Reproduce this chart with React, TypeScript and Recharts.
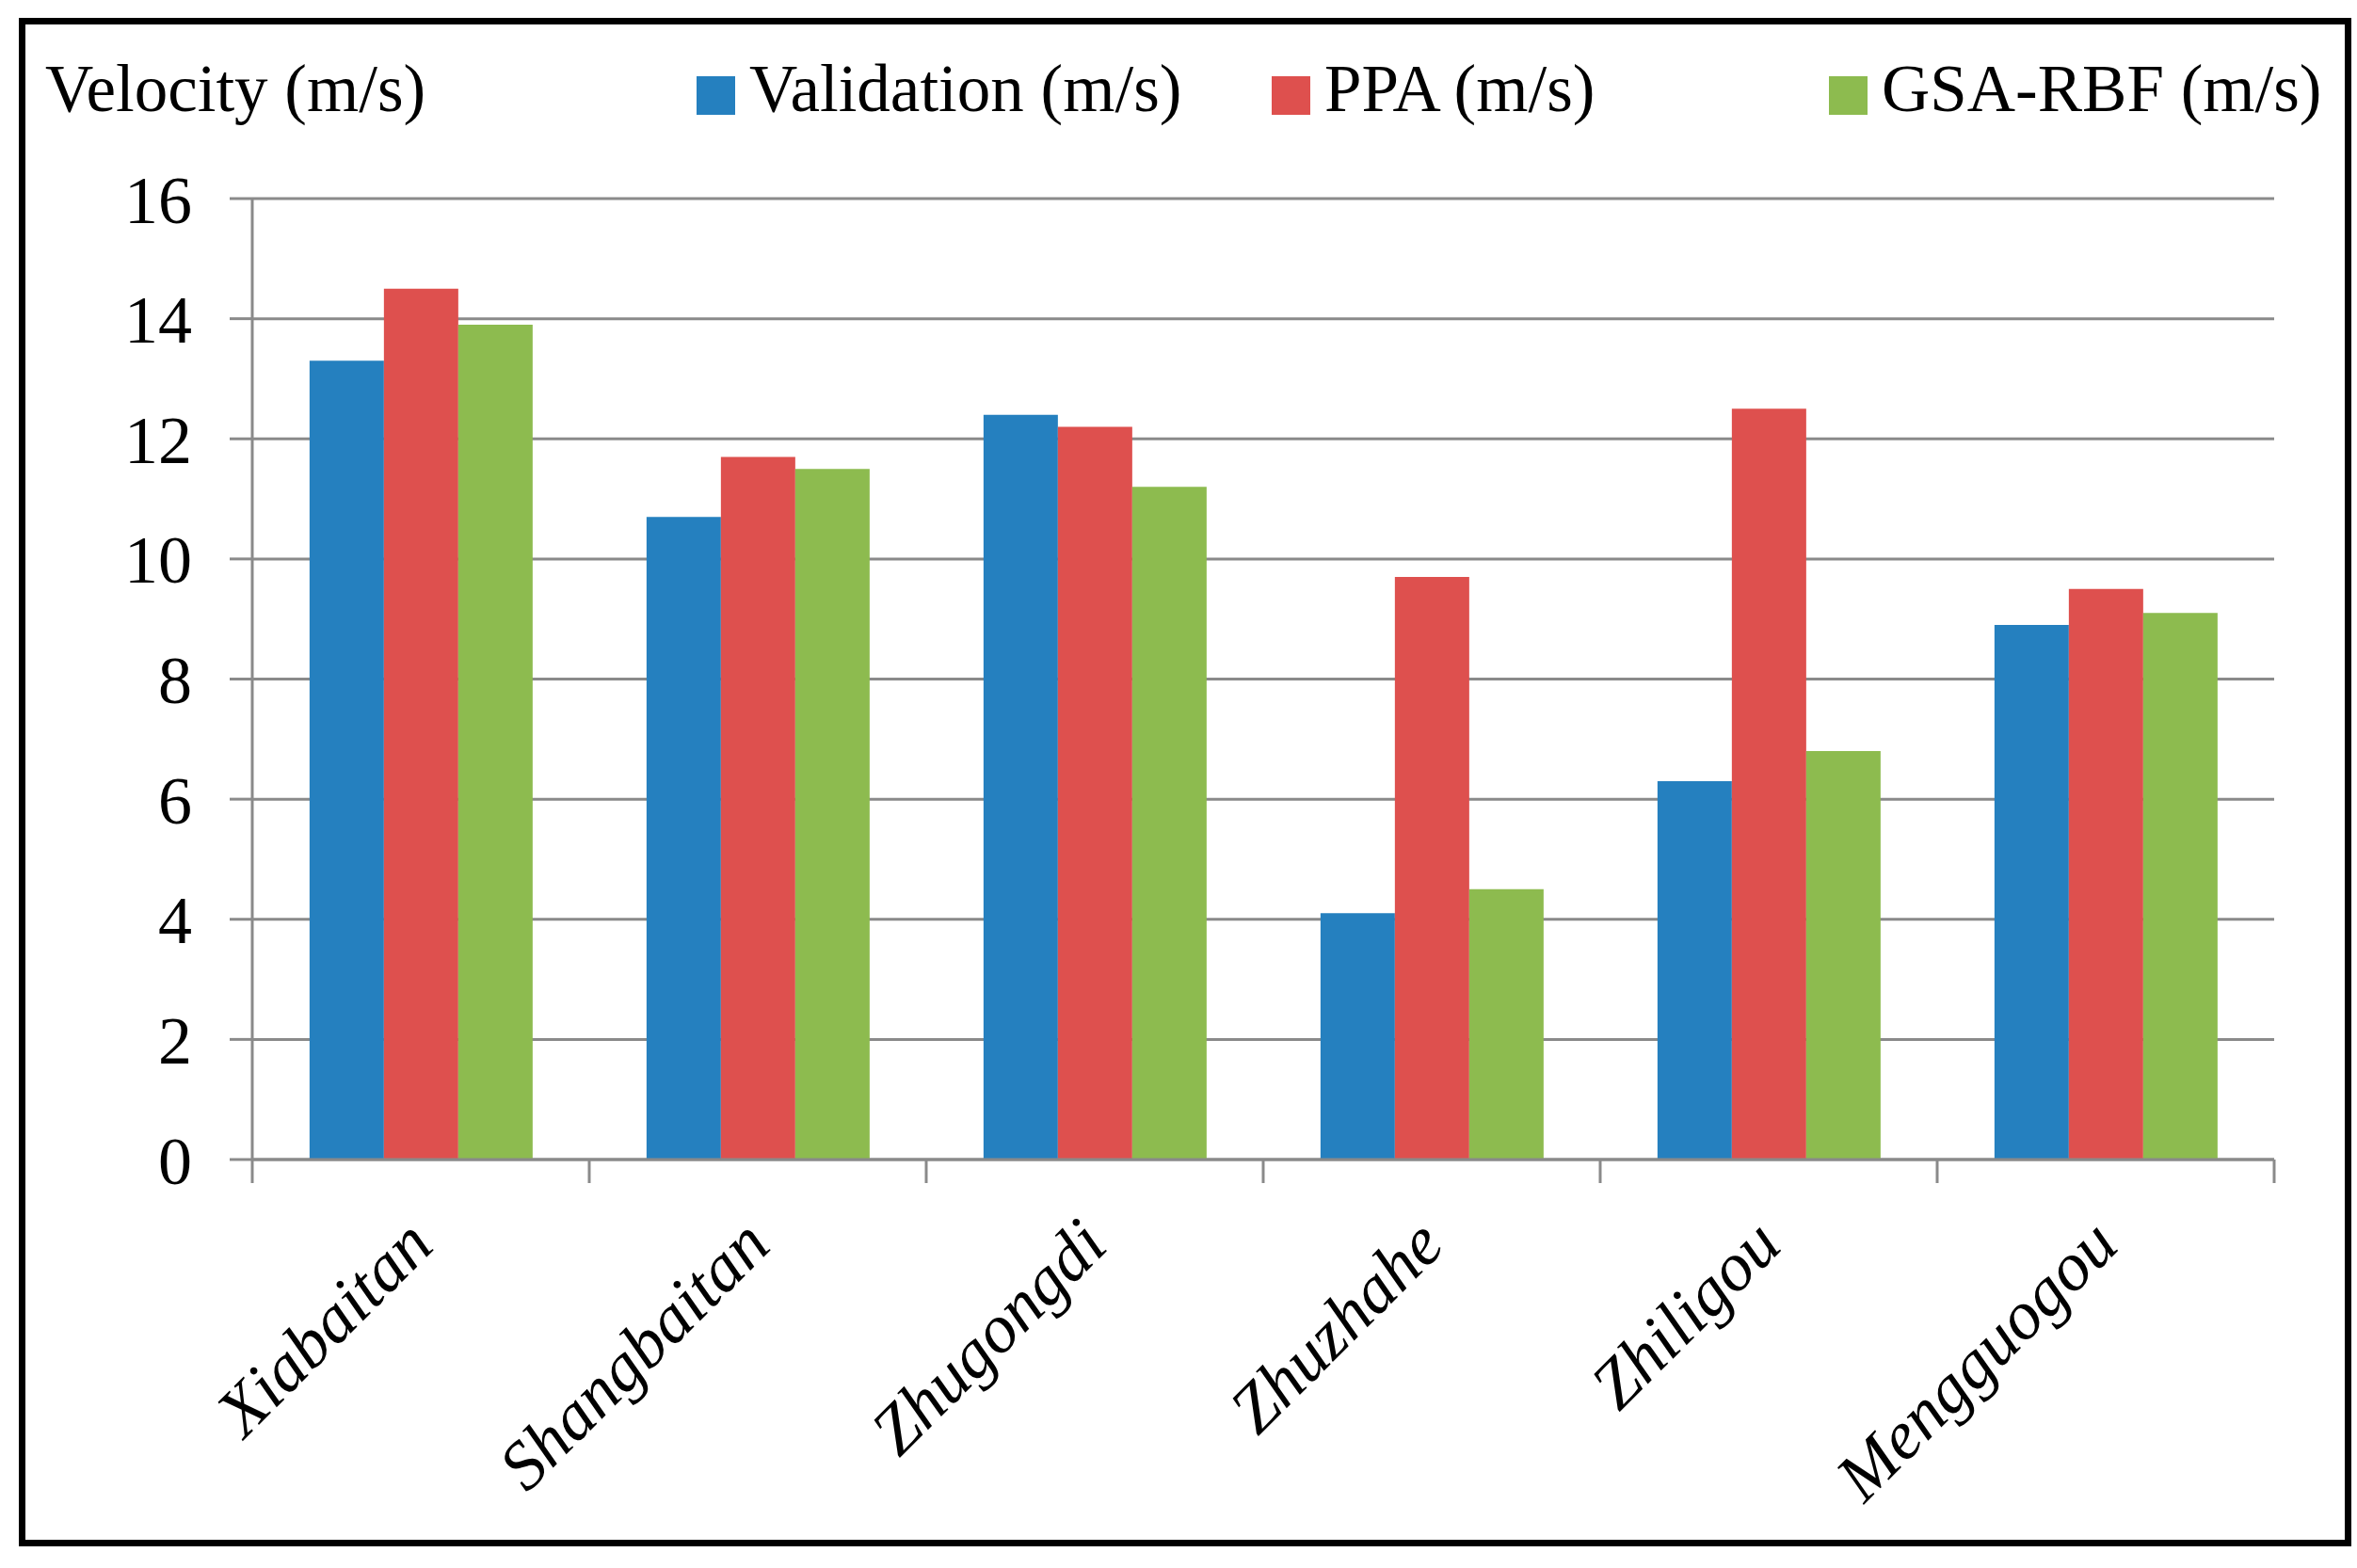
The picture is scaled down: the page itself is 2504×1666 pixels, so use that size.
import React from 'react';
import { BarChart, Bar, XAxis, YAxis, CartesianGrid, Legend } from 'recharts';

const categories = ['Xiabaitan', 'Shangbaitan', 'Zhugongdi', 'Zhuzhahe', 'Zhiligou', 'Mengguogou'];
const validation = [13.3, 10.7, 12.4, 4.1, 6.3, 8.9];
const ppa = [14.5, 11.7, 12.2, 9.7, 12.5, 9.5];
const gsaRbf = [13.9, 11.5, 11.2, 4.5, 6.8, 9.1];
const yTicks = [0, 2, 4, 6, 8, 10, 12, 14, 16];
const seriesNames = ['Validation (m/s)', 'PPA (m/s)', 'GSA-RBF (m/s)'];
const seriesColors = ['#2580BF', '#DE504E', '#8DBB4F'];
const axisTitle = 'Velocity (m/s)';

const data = categories.map((c, i) => ({ name: c, v: validation[i], p: ppa[i], g: gsaRbf[i] }));

const W = 2504;
const H = 1666;
const PLOT_LEFT = 268;
const PLOT_RIGHT = 2416;
const PLOT_TOP = 211;
const PLOT_BOTTOM = 1232;
const BAND = (PLOT_RIGHT - PLOT_LEFT) / categories.length;
const FONT = '"Liberation Serif", "Times New Roman", serif';
const GRID = '#8A8A8A';
const LEGEND_X = [740, 1351, 1943];

const XTick = (props: any) => {
  const { x, y, payload, index } = props;
  const lines = [x - BAND / 2];
  if (index === categories.length - 1) lines.push(x + BAND / 2);
  const tx = x + 16;
  const ty = y + 94;
  return (
    <g>
      {lines.map((lx, i) => (
        <line key={i} x1={lx} x2={lx} y1={y} y2={y + 25} stroke={GRID} strokeWidth={3} />
      ))}
      <text
        x={tx}
        y={ty}
        transform={`rotate(-45, ${tx}, ${ty})`}
        textAnchor="end"
        fontFamily={FONT}
        fontStyle="italic"
        fontSize={73}
        fill="#000"
      >
        {payload.value}
      </text>
    </g>
  );
};

const renderLegend = (props: any) => {
  const payload = [...(props.payload || [])].sort(
    (a: any, b: any) => seriesNames.indexOf(a.value) - seriesNames.indexOf(b.value)
  );
  return (
    <svg width={W} height={150} style={{ display: 'block' }}>
      <text x={48} y={118} fontFamily={FONT} fontSize={71} fill="#000">
        {axisTitle}
      </text>
      {payload.map((entry: any, i: number) => {
        const mx = LEGEND_X[i];
        return (
          <g key={i}>
            <rect x={mx} y={81} width={41} height={41} fill={entry.color} />
            <text x={mx + 56} y={118} fontFamily={FONT} fontSize={71} fill="#000">
              {entry.value}
            </text>
          </g>
        );
      })}
    </svg>
  );
};

export default function App() {
  return (
    <div style={{ position: 'absolute', left: 0, top: 0, width: W, height: H, background: '#fff' }}>
      <BarChart
        width={W}
        height={H}
        data={data}
        margin={{ top: PLOT_TOP, right: W - PLOT_RIGHT, left: 0, bottom: H - PLOT_BOTTOM - 300 }}
        barCategoryGap="17%"
        barGap={0}
      >
        <CartesianGrid vertical={false} stroke={GRID} strokeWidth={3} />
        <XAxis
          dataKey="name"
          height={300}
          tickSize={0}
          tickMargin={0}
          tickLine={false}
          axisLine={{ stroke: GRID, strokeWidth: 3 }}
          interval={0}
          tick={<XTick />}
        />
        <YAxis
          width={PLOT_LEFT}
          domain={[0, 16]}
          ticks={yTicks}
          interval={0}
          tickSize={24}
          tickMargin={40}
          tickLine={{ stroke: GRID, strokeWidth: 3 }}
          axisLine={{ stroke: GRID, strokeWidth: 3 }}
          tick={{ fontFamily: FONT, fontSize: 72, fill: '#000' }}
        />
        <Legend
          layout="horizontal"
          verticalAlign="middle"
          align="center"
          content={renderLegend}
          wrapperStyle={{ position: 'absolute', top: 0, left: 0, width: W, height: 150 }}
        />
        <Bar dataKey="v" name={seriesNames[0]} fill={seriesColors[0]} isAnimationActive={false} />
        <Bar dataKey="p" name={seriesNames[1]} fill={seriesColors[1]} isAnimationActive={false} />
        <Bar dataKey="g" name={seriesNames[2]} fill={seriesColors[2]} isAnimationActive={false} />
      </BarChart>
      <div
        style={{
          position: 'absolute',
          left: 20,
          top: 19,
          width: 2478,
          height: 1624,
          border: '7px solid #000',
          boxSizing: 'border-box',
          pointerEvents: 'none',
        }}
      />
    </div>
  );
}
